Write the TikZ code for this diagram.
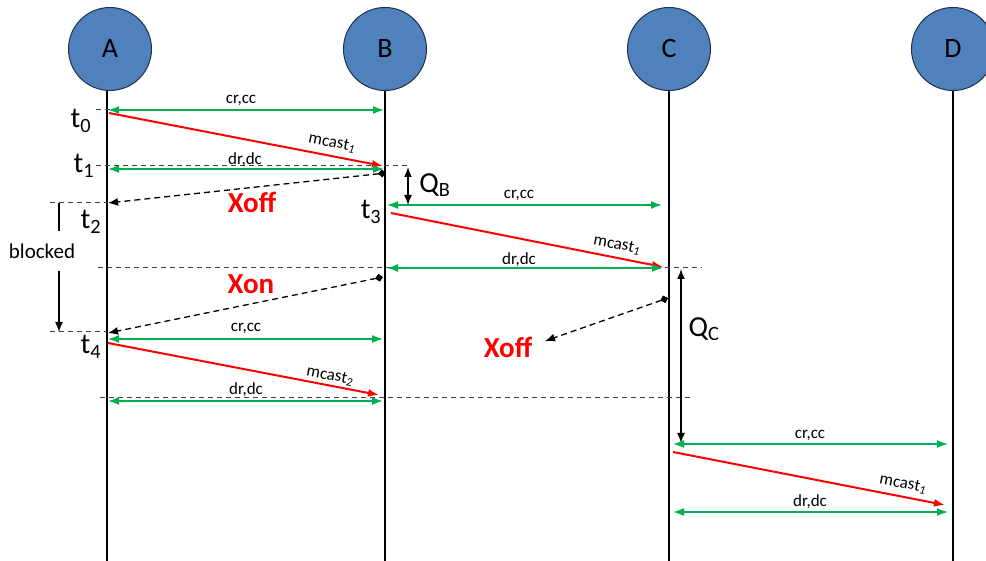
\documentclass[tikz,border=0pt]{standalone}
\usepackage{fontspec}
\setmainfont{Carlito}
\usetikzlibrary{arrows.meta}
\definecolor{nodeblue}{HTML}{4F81BD}
\definecolor{nodeedge}{HTML}{1F2F4F}
\definecolor{grn}{HTML}{00B050}
\begin{document}
\begin{tikzpicture}[x=1pt,y=-1pt,
 actor/.style={circle,draw=nodeedge,line width=1pt,fill=nodeblue,minimum size=83pt,inner sep=0pt,font=\fontsize{28}{28}\selectfont},
 life/.style={draw=black,line width=2pt},
 msg/.style={draw=grn,line width=1.6pt,{Latex[length=11pt,width=8pt]}-{Latex[length=11pt,width=8pt]}},
 data/.style={draw=red,line width=2pt,-{Latex[length=11pt,width=8pt]}},
 ctrl/.style={draw=black,line width=1.3pt,dash pattern=on 6pt off 4pt,{Diamond[length=8pt,width=8pt,sep=0pt]}-{Latex[length=10pt,width=8pt]}},
 guide/.style={draw=black!75,line width=1pt,dash pattern=on 5pt off 4pt},
 qarrow/.style={draw=black,line width=1.5pt,{Latex[length=10pt,width=8pt]}-{Latex[length=10pt,width=8pt]}},
 lbl/.style={font=\fontsize{17}{17}\selectfont,inner sep=0pt},
 mlbl/.style={font=\fontsize{17}{17}\selectfont,inner sep=0pt,rotate=-11},
 tlbl/.style={font=\fontsize{29}{29}\selectfont,inner sep=0pt},
 flow/.style={font=\bfseries\fontsize{29}{29}\selectfont,text=red,inner sep=0pt},
 blk/.style={font=\fontsize{21}{21}\selectfont,inner sep=0pt},
]
\useasboundingbox (0,0) rectangle (986,561);

% actors
\node[actor] (A) at (110,49) {A};
\node[actor] (B) at (385,49) {B};
\node[actor] (C) at (669,49) {C};
\node[actor] (D) at (953,49) {D};

% lifelines
\coordinate (Ab) at (107,561);
\coordinate (Bb) at (385,561);
\coordinate (Cb) at (669,561);
\coordinate (Db) at (953,561);
\draw[life] (A.south -| Ab) -- (Ab);
\draw[life] (B.south) -- (Bb);
\draw[life] (C.south) -- (Cb);
\draw[life] (D.south) -- (Db);

% guide dashed lines
\coordinate (g0a) at (96,110); \coordinate (g0b) at (160,110);
\coordinate (g1a) at (96,166); \coordinate (g1b) at (409,166);
\coordinate (g2a) at (50,203); \coordinate (g2b) at (107,203);
\coordinate (g3a) at (98,268); \coordinate (g3b) at (702,268);
\coordinate (g4a) at (50,332); \coordinate (g4b) at (107,332);
\coordinate (g5a) at (100,398); \coordinate (g5b) at (692,398);
\draw[guide] (g0a) -- (g0b);
\draw[guide] (g1a) -- (g1b);
\draw[guide] (g2a) -- (g2b);
\draw[guide] (g3a) -- (g3b);
\draw[guide] (g4a) -- (g4b);
\draw[guide] (g5a) -- (g5b);

% A-B first exchange
\coordinate (m1a) at (108,110); \coordinate (m1b) at (384,110);
\draw[msg] (m1a) -- (m1b);
\node[lbl] (l1) at (241,100) {cr,cc};
\coordinate (r1a) at (109,113); \coordinate (r1b) at (383,166);
\draw[data] (r1a) -- (r1b);
\node[mlbl] (lr1) at (332,143) {mcast\textsubscript{\itshape 1}};
\coordinate (m2a) at (108,169); \coordinate (m2b) at (384,169);
\draw[msg] (m2a) -- (m2b);
\node[lbl] (l2) at (245,160) {dr,dc};

% Xoff B->A
\coordinate (x1a) at (386,173); \coordinate (x1b) at (108,203);
\draw[ctrl] (x1a) -- (x1b);
\node[flow] (xoff1) at (252,202) {Xoff};

% QB
\coordinate (qb1) at (408,167); \coordinate (qb2) at (408,205);
\draw[qarrow] (qb1) -- (qb2);
\node[tlbl] (QB) at (435,185) {Q\textsubscript{B}};

% time labels
\node[tlbl] (t0) at (81,121) {t\textsubscript{0}};
\node[tlbl] (t1) at (84,166) {t\textsubscript{1}};
\node[tlbl] (t2) at (91,222) {t\textsubscript{2}};
\node[tlbl] (t3) at (371,212) {t\textsubscript{3}};
\node[tlbl] (t4) at (91,347) {t\textsubscript{4}};

% B-C exchange
\coordinate (m3a) at (387,205); \coordinate (m3b) at (662,205);
\draw[msg] (m3a) -- (m3b);
\node[lbl] (l3) at (519,195) {cr,cc};
\coordinate (r2a) at (391,213); \coordinate (r2b) at (663,267);
\draw[data] (r2a) -- (r2b);
\node[mlbl] (lr2) at (617,245) {mcast\textsubscript{\itshape 1}};
\coordinate (m4a) at (387,268); \coordinate (m4b) at (663,268);
\draw[msg] (m4a) -- (m4b);
\node[lbl] (l4) at (519,260) {dr,dc};

% Xon B->A
\coordinate (x2a) at (383,277); \coordinate (x2b) at (108,333);
\draw[ctrl] (x2a) -- (x2b);
\node[flow] (xon) at (251,284) {Xon};

% blocked
\coordinate (bk1) at (59,203); \coordinate (bk2) at (59,231);
\coordinate (bk3) at (59,271); \coordinate (bk4) at (59,332);
\draw[line width=1.4pt] (bk1) -- (bk2);
\draw[line width=1.4pt,-{Latex[length=10pt,width=8pt]}] (bk3) -- (bk4);
\node[blk] (blocked) at (42,251) {blocked};

% A-B second exchange
\coordinate (m5a) at (108,339); \coordinate (m5b) at (383,339);
\draw[msg] (m5a) -- (m5b);
\node[lbl] (l5) at (246,328) {cr,cc};
\coordinate (r3a) at (108,343); \coordinate (r3b) at (379,395);
\draw[data] (r3a) -- (r3b);
\node[mlbl] (lr3) at (330,376) {mcast\textsubscript{\itshape 2}};
\coordinate (m6a) at (108,401); \coordinate (m6b) at (383,401);
\draw[msg] (m6a) -- (m6b);
\node[lbl] (l6) at (246,390) {dr,dc};

% Xoff from C
\coordinate (x3a) at (668,298); \coordinate (x3b) at (545,341);
\draw[ctrl] (x3a) -- (x3b);
\node[flow] (xoff2) at (508,347) {Xoff};

% QC
\coordinate (qc1) at (681,269); \coordinate (qc2) at (681,443);
\draw[qarrow] (qc1) -- (qc2);
\node[tlbl] (QC) at (704,329) {Q\textsubscript{C}};

% C-D exchange
\coordinate (m7a) at (673,444); \coordinate (m7b) at (948,444);
\draw[msg] (m7a) -- (m7b);
\node[lbl] (l7) at (810,435) {cr,cc};
\coordinate (r4a) at (673,452); \coordinate (r4b) at (945,505);
\draw[data] (r4a) -- (r4b);
\node[mlbl] (lr4) at (903,484) {mcast\textsubscript{\itshape 1}};
\coordinate (m8a) at (673,512); \coordinate (m8b) at (948,512);
\draw[msg] (m8a) -- (m8b);
\node[lbl] (l8) at (810,502) {dr,dc};
\end{tikzpicture}
\end{document}
